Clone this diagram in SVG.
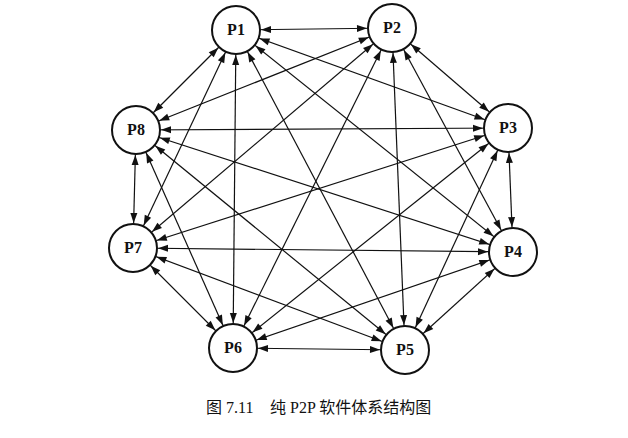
<svg xmlns="http://www.w3.org/2000/svg" width="628" height="438" viewBox="0 0 628 438">
<style>
.e line{stroke:#111;stroke-width:1.2;marker-start:url(#a);marker-end:url(#a)}
.n circle{fill:#fff;stroke:#111;stroke-width:2}
.n text{font-family:"Liberation Serif",serif;font-size:16px;font-weight:bold;text-anchor:middle;fill:#111}
.cap{font-family:"Liberation Serif","Noto Sans CJK SC",serif;font-size:16px;fill:#111}
</style>
<defs>
<marker id="a" viewBox="-40 -5 40 10" markerWidth="40" markerHeight="10" refX="0" refY="0" markerUnits="userSpaceOnUse" orient="auto-start-reverse">
<path d="M-25,0 L-35,-3.5 L-35,3.5 z" fill="#111"/>
</marker>
</defs>
<rect width="628" height="438" fill="#fff"/>
<g class="e" id="connectors">
<line x1="236" y1="30" x2="392" y2="28"/>
<line x1="236" y1="30" x2="508" y2="128"/>
<line x1="236" y1="30" x2="513" y2="252"/>
<line x1="236" y1="30" x2="405" y2="350"/>
<line x1="236" y1="30" x2="233" y2="348"/>
<line x1="236" y1="30" x2="133" y2="248"/>
<line x1="236" y1="30" x2="136" y2="130"/>
<line x1="392" y1="28" x2="508" y2="128"/>
<line x1="392" y1="28" x2="513" y2="252"/>
<line x1="392" y1="28" x2="405" y2="350"/>
<line x1="392" y1="28" x2="233" y2="348"/>
<line x1="392" y1="28" x2="133" y2="248"/>
<line x1="392" y1="28" x2="136" y2="130"/>
<line x1="508" y1="128" x2="513" y2="252"/>
<line x1="508" y1="128" x2="405" y2="350"/>
<line x1="508" y1="128" x2="233" y2="348"/>
<line x1="508" y1="128" x2="133" y2="248"/>
<line x1="508" y1="128" x2="136" y2="130"/>
<line x1="513" y1="252" x2="405" y2="350"/>
<line x1="513" y1="252" x2="233" y2="348"/>
<line x1="513" y1="252" x2="133" y2="248"/>
<line x1="513" y1="252" x2="136" y2="130"/>
<line x1="405" y1="350" x2="233" y2="348"/>
<line x1="405" y1="350" x2="133" y2="248"/>
<line x1="405" y1="350" x2="136" y2="130"/>
<line x1="233" y1="348" x2="133" y2="248"/>
<line x1="233" y1="348" x2="136" y2="130"/>
<line x1="133" y1="248" x2="136" y2="130"/>
</g>
<g class="n" id="P1"><circle cx="236" cy="30" r="24"/><text x="236" y="35">P1</text></g>
<g class="n" id="P2"><circle cx="392" cy="28" r="24"/><text x="392" y="33">P2</text></g>
<g class="n" id="P3"><circle cx="508" cy="128" r="24"/><text x="508" y="133">P3</text></g>
<g class="n" id="P4"><circle cx="513" cy="252" r="24"/><text x="513" y="257">P4</text></g>
<g class="n" id="P5"><circle cx="405" cy="350" r="24"/><text x="405" y="355">P5</text></g>
<g class="n" id="P6"><circle cx="233" cy="348" r="24"/><text x="233" y="353">P6</text></g>
<g class="n" id="P7"><circle cx="133" cy="248" r="24"/><text x="133" y="253">P7</text></g>
<g class="n" id="P8"><circle cx="136" cy="130" r="24"/><text x="136" y="135">P8</text></g>
<text class="cap" x="206" y="413">图 7.11</text>
<text class="cap" x="270" y="413">纯 P2P 软件体系结构图</text>
</svg>
